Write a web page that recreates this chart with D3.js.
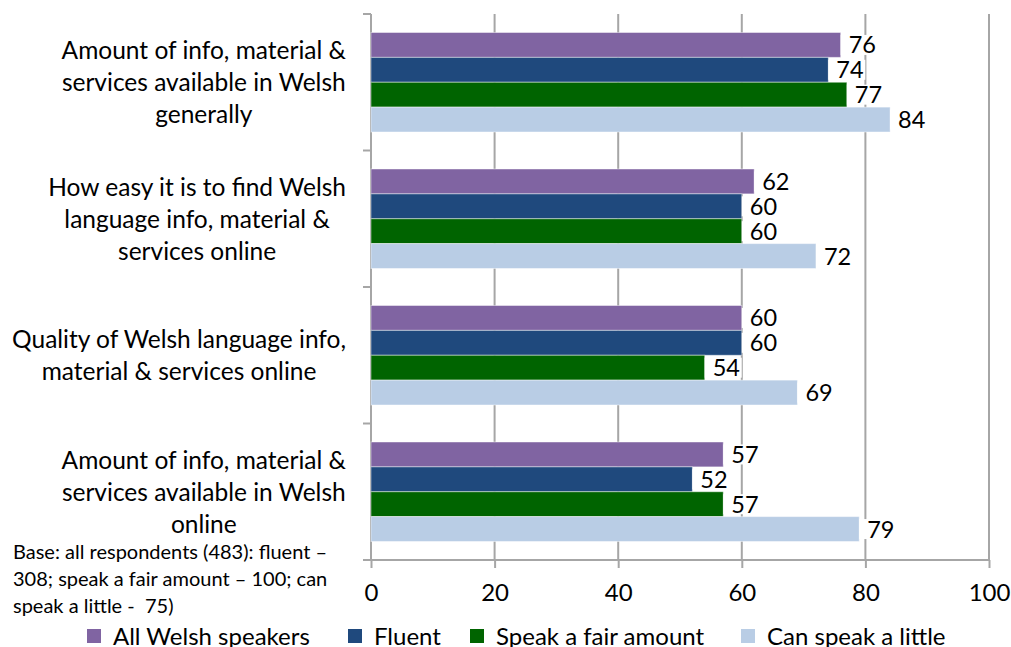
<!DOCTYPE html>
<html>
<head>
<meta charset="utf-8">
<script src="https://cdn.jsdelivr.net/npm/d3@7"></script>
<style>
  body { margin: 0; background: #fff; }
  svg { display: block; font-family: Lato, "Open Sans", sans-serif; }
  .grid line { stroke: #a6a6a6; stroke-width: 2; }
  .axis path, .axis line { stroke: #a6a6a6; stroke-width: 2; }
</style>
</head>
<body>
<svg width="1011" height="647"></svg>
<script>
const categories = [
  ["Amount of info, material &", "services available in Welsh", "generally"],
  ["How easy it is to find Welsh", "language info, material &", "services online"],
  ["Quality of Welsh language info,", "material & services online"],
  ["Amount of info, material &", "services available in Welsh", "online"]
]
const seriesNames = ["All Welsh speakers", "Fluent", "Speak a fair amount", "Can speak a little"]
const seriesColors = ["#8064a2", "#1f497d", "#006400", "#b9cde5"]
const allWelsh = [76, 62, 60, 57]
const fluent = [74, 60, 60, 52]
const fairAmount = [77, 60, 54, 57]
const little = [84, 72, 69, 79]
const xTicks = [0, 20, 40, 60, 80, 100]
const baseNote = [
  "Base: all respondents (483): fluent \u2013",
  "308; speak a fair amount \u2013 100; can",
  "speak a little -  75)"
]

const values = [allWelsh, fluent, fairAmount, little]

const svg = d3.select("svg")

const x = d3.scaleLinear()
  .domain([0, 100])
  .range([371, 989])

const y0 = d3.scaleBand()
  .domain(d3.range(categories.length))
  .range([14, 560])

const y1 = d3.scaleBand() // bars inside one group
  .domain(d3.range(seriesNames.length))
  .range([18.5, y0.bandwidth() - 18.5])

// gridlines
svg.append("g")
  .attr("class", "grid")
  .selectAll("line")
  .data(xTicks.slice(1))
  .enter()
  .append("line")
  .attr("x1", d => x(d))
  .attr("x2", d => x(d))
  .attr("y1", 14)
  .attr("y2", 560)

// bottom axis
const xAxis = svg.append("g")
  .attr("class", "axis")
  .attr("transform", "translate(0,560)")
  .call(d3.axisBottom(x).tickValues(xTicks).tickSize(8).tickSizeOuter(0).tickPadding(16))
xAxis.select(".domain").remove()
xAxis.append("line").attr("x1", x(0)).attr("x2", x(100))
xAxis.selectAll("text")
  .attr("font-family", "Lato, sans-serif")
  .attr("font-size", 24)
  .attr("fill", "#000")

// left axis, ticks between groups
svg.append("g")
  .attr("class", "axis")
  .attr("transform", "translate(" + x(0) + ",0)")
  .call(g => {
    g.append("line").attr("y1", 14).attr("y2", 560)
    g.selectAll(".tk")
      .data(d3.range(categories.length + 1))
      .enter()
      .append("line")
      .attr("x1", -8).attr("x2", 0)
      .attr("y1", i => i < categories.length ? y0(i) : 560)
      .attr("y2", i => i < categories.length ? y0(i) : 560)
  })

const groups = svg.selectAll(".cat")
  .data(categories)
  .enter()
  .append("g")
  .attr("class", "cat")
  .attr("transform", (d, i) => "translate(0," + y0(i) + ")")

// bars
groups.selectAll("rect.bar")
  .data((d, i) => values.map((s, k) => ({ k: k, v: s[i] })))
  .enter()
  .append("rect")
  .attr("class", "bar")
  .attr("x", x(0))
  .attr("y", d => y1(d.k))
  .attr("width", d => x(d.v) - x(0))
  .attr("height", y1.bandwidth())
  .attr("fill", d => seriesColors[d.k])
  .attr("stroke", "rgba(255,255,255,0.45)")
  .attr("stroke-width", 1)

// value labels with white boxes
const labels = groups.selectAll("g.val")
  .data((d, i) => values.map((s, k) => ({ k: k, v: s[i] })))
  .enter()
  .append("g")
  .attr("class", "val")
  .attr("transform", d => "translate(" + x(d.v) + "," + (y1(d.k) + y1.bandwidth() / 2) + ")")

labels.append("rect")
  .attr("x", 0)
  .attr("y", -10)
  .attr("width", 37)
  .attr("height", 20)
  .attr("fill", "#fff")

labels.append("text")
  .attr("x", 8)
  .attr("dy", "0.36em")
  .attr("font-size", 23.5)
  .text(d => d.v)

// category labels: centred block, widest line ends at 345
const catText = groups.append("text")
  .attr("text-anchor", "middle")
  .attr("font-size", 24.5)

catText.selectAll("tspan")
  .data(d => d.map((t, j) => ({ t: t, j: j, n: d.length })))
  .enter()
  .append("tspan")
  .attr("y", d => y0.bandwidth() / 2 + (d.j - (d.n - 1) / 2) * 32)
  .attr("dy", "0.36em")
  .text(d => d.t)

catText.each(function () {
  const spans = d3.select(this).selectAll("tspan")
  const w = d3.max(spans.nodes(), n => n.getComputedTextLength())
  spans.attr("x", 346 - w / 2)
})

// base note
svg.append("text")
  .attr("font-size", 20)
  .style("white-space", "pre")
  .selectAll("tspan")
  .data(baseNote)
  .enter()
  .append("tspan")
  .attr("x", 13)
  .attr("y", (d, i) => 552 + i * 27)
  .attr("dy", "0.36em")
  .text(d => d)

// legend
const legendX = [87, 348, 470, 741]
const legend = svg.selectAll(".legend")
  .data(seriesNames)
  .enter()
  .append("g")
  .attr("class", "legend")
  .attr("transform", (d, i) => "translate(" + legendX[i] + ",636)")

legend.append("rect")
  .attr("x", 0)
  .attr("y", -7)
  .attr("width", 14)
  .attr("height", 14)
  .attr("fill", (d, i) => seriesColors[i])

legend.append("text")
  .attr("x", 26)
  .attr("dy", "0.36em")
  .attr("font-size", 24)
  .text(d => d)
</script>
</body>
</html>
